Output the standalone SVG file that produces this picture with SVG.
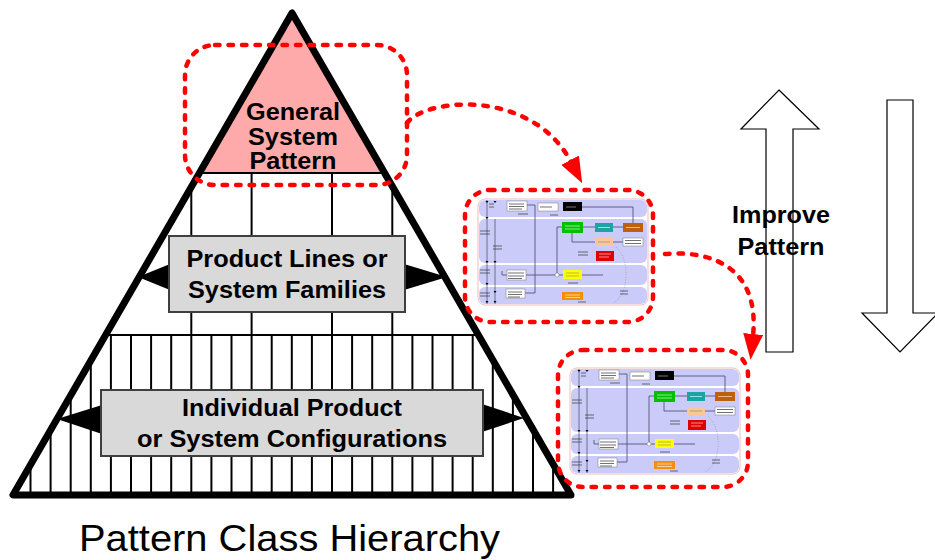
<svg xmlns="http://www.w3.org/2000/svg" xmlns:xlink="http://www.w3.org/1999/xlink" width="935" height="560" viewBox="0 0 935 560">
  <style>
    .edge{fill:none;stroke:#000;stroke-width:7;stroke-linejoin:round}
    .grid{fill:none;stroke:#000;stroke-width:2}
    .box{fill:#d9d9d9;stroke:#3f3f3f;stroke-width:2}
    .lbl{font-family:"Liberation Sans",Arial,sans-serif;font-weight:bold;font-size:23px;fill:#000;text-anchor:middle}
    .title{font-family:"Liberation Sans",Arial,sans-serif;font-size:36px;fill:#000}
    .ring{fill:none;stroke:#f00;stroke-width:4.5;stroke-dasharray:4.5 9;stroke-linecap:round}
    .block{fill:#fff;stroke:#000;stroke-width:1.2}
    .lane{fill:#cbcbfa}
    .wire{fill:none;stroke:#55557a;stroke-width:0.9}
    .mini{stroke:#777;stroke-width:0.5}
    .tx{fill:none;stroke:#333;stroke-width:0.7}
  </style>
  <defs>
    <clipPath id="pyramidClip">
      <polygon points="292,13 13,495 571,495"/>
    </clipPath>
    <marker id="arrowRed" viewBox="0 0 26 20" refX="2" refY="10" markerWidth="26" markerHeight="20" markerUnits="userSpaceOnUse" orient="auto">
      <path d="M0 0L26 10L0 20z" fill="#f00"/>
    </marker>
    <filter id="soft" x="-5%" y="-5%" width="110%" height="110%">
      <feGaussianBlur stdDeviation="0.35"/>
    </filter>
    <!-- small flow sketch: swim lanes with coloured blocks -->
    <g id="flowSketch">
      <rect x="0" y="0" width="170" height="106" rx="7" fill="#fff" stroke="#e8a0a0" stroke-width="0.7"/>
      <rect class="lane" x="1" y="1" width="168" height="17" rx="6"/>
      <rect class="lane" x="1" y="20" width="168" height="44" rx="6"/>
      <rect class="lane" x="1" y="66" width="168" height="20" rx="6"/>
      <rect class="lane" x="1" y="88" width="168" height="17" rx="6"/>
      <path class="wire" d="M49 6H57V94H47M104 8H155V24M105 28H117M135 28H145M94 34V43H117M135 43H145M84 28H79V76M24 76H125M24 72V76"/>
      <path d="M138 48C152 60 152 95 135 104" fill="none" stroke="#888" stroke-width="0.6" stroke-dasharray="1 1.5"/>
      <path d="M9 1V105M17 20V105" fill="none" stroke="#333" stroke-width="0.6"/>
      <path d="M7.5 2h3l-1.5 2zM7.5 18h3l-1.5 2zM7.5 62h3l-1.5 2zM7.5 84h3l-1.5 2zM7.5 102h3l-1.5 2zM15.5 2h3l-1.5 2zM15.5 62h3l-1.5 2zM15.5 92h3l-1.5 2zM15.5 102h3l-1.5 2z" fill="#000"/>
      <circle cx="79" cy="76" r="2" fill="#fff" stroke="#777" stroke-width="0.5"/>
      <rect class="mini" x="29" y="2" width="20" height="10" fill="#fff"/>
      <rect class="mini" x="60" y="4" width="20" height="8" fill="#fff"/>
      <rect x="85" y="3" width="19" height="9" fill="#000"/>
      <rect x="84" y="23" width="21" height="11" fill="#00c000"/>
      <rect x="117" y="24" width="18" height="9" fill="#1aa3a3"/>
      <rect x="145" y="24" width="20" height="9" fill="#c0600c"/>
      <rect x="117" y="39" width="18" height="8" fill="#f8c89c"/>
      <rect class="mini" x="145" y="39" width="20" height="8" fill="#fff"/>
      <rect x="118" y="52" width="18" height="10" fill="#e00000"/>
      <rect x="85" y="71" width="19" height="9" fill="#ffff00"/>
      <rect x="84" y="93" width="21" height="8" fill="#f09010"/>
      <rect class="mini" x="29" y="71" width="19" height="10" fill="#fff"/>
      <rect class="mini" x="28" y="90" width="19" height="9" fill="#fff"/>
      <path class="tx" d="M31 5H46M31 7.5H46M31 10H44M62 8H74M30 74H46M30 77H46M30 79.5H44M30 93H44M30 95.5H44M30 98H42M147 41.5H163M147 44.5H163M40 15H50M2 32H12M2 35H12M15 47H24M15 50H24M2 71H12M2 74H12M2 94H12M2 97H12M11 5H16M11 8H16M100 53H110M100 56H110M90 84H100M100 103H108M142 92H150M142 95H150M72 16H80"/>
      <path d="M88 8H98" stroke="#aaa" stroke-width="0.7"/>
      <path d="M87 27H102M87 30H102" stroke="#cfc" stroke-width="0.7"/>
      <path d="M120 28.5H132" stroke="#cff" stroke-width="0.7"/>
      <path d="M148 28.5H162" stroke="#fdc" stroke-width="0.7"/>
      <path d="M120 43H132" stroke="#a86" stroke-width="0.7"/>
      <path d="M121 55H133M121 58H131" stroke="#fcc" stroke-width="0.7"/>
      <path d="M88 74H101M88 77H101" stroke="#996" stroke-width="0.7"/>
      <path d="M87 96H102M87 98.5H102" stroke="#fed" stroke-width="0.7"/>
    </g>
  </defs>

  <rect width="935" height="560" fill="#fff"/>

  <!-- pyramid: apex tier, middle tier, base tier -->
  <g id="pyramid">
    <polygon points="292,13 199,173 385,173" fill="#ffaaaa"/>
    <g clip-path="url(#pyramidClip)">
      <path class="grid" d="M185 173H400M95 335H490"/>
      <path class="grid" d="M191.3 173V335M251.6 173V335M332 173V335M392.3 173V335"/>
      <path class="grid" d="M30.5 335V495M50.6 335V495M70.7 335V495M90.8 335V495M110.9 335V495M131 335V495M151.1 335V495M171.2 335V495M191.3 335V495M211.4 335V495M231.5 335V495M251.6 335V495M271.7 335V495M291.8 335V495M311.9 335V495M332 335V495M352.1 335V495M372.2 335V495M392.3 335V495M412.4 335V495M432.5 335V495M452.6 335V495M472.7 335V495M492.8 335V495M512.9 335V495M533 335V495M553.1 335V495"/>
    </g>
    <polygon class="edge" points="292,13 13,495 571,495"/>
  </g>

  <g id="general-system-pattern">
    <text class="lbl" x="293" y="120" textLength="94" lengthAdjust="spacingAndGlyphs">General</text>
    <text class="lbl" x="293" y="144.5" textLength="90" lengthAdjust="spacingAndGlyphs">System</text>
    <text class="lbl" x="293" y="169" textLength="87" lengthAdjust="spacingAndGlyphs">Pattern</text>
  </g>

  <g id="product-lines">
    <path d="M170 264L138 277L170 290z" fill="#000"/>
    <path d="M404 264L447 277L404 290z" fill="#000"/>
    <rect class="box" x="169" y="236" width="236" height="76"/>
    <text class="lbl" x="287" y="267" textLength="201" lengthAdjust="spacingAndGlyphs">Product Lines or</text>
    <text class="lbl" x="287" y="298" textLength="198" lengthAdjust="spacingAndGlyphs">System Families</text>
  </g>

  <g id="configurations">
    <path d="M102 405L57 419L102 434z" fill="#000"/>
    <path d="M482 404L524 418L482 432z" fill="#000"/>
    <rect class="box" x="101" y="390" width="382" height="66"/>
    <text class="lbl" x="292" y="416" textLength="220" lengthAdjust="spacingAndGlyphs">Individual Product</text>
    <text class="lbl" x="292" y="447" textLength="310" lengthAdjust="spacingAndGlyphs">or System Configurations</text>
  </g>

  <g id="apex-selection">
    <rect class="ring" x="185" y="45" width="222" height="140" rx="30"/>
  </g>

  <g id="instance-a">
    <use xlink:href="#flowSketch" href="#flowSketch" transform="translate(478 199)" filter="url(#soft)"/>
    <rect class="ring" x="465" y="190" width="188" height="132" rx="25"/>
  </g>

  <g id="instance-b">
    <use xlink:href="#flowSketch" href="#flowSketch" transform="translate(570 368)" filter="url(#soft)"/>
    <rect class="ring" x="558" y="350" width="190" height="137" rx="25"/>
  </g>

  <g id="connectors">
    <path class="ring" d="M407 123C425 98 532 88 571 162" marker-end="url(#arrowRed)"/>
    <path class="ring" d="M665 254C712 250 760 268 753 336" marker-end="url(#arrowRed)"/>
  </g>

  <g id="improve-pattern">
    <polygon class="block" points="779,90 819,129 793,129 793,352 766,352 766,129 741,129"/>
    <text class="lbl" x="781" y="223" textLength="98" lengthAdjust="spacingAndGlyphs">Improve</text>
    <text class="lbl" x="781" y="255" textLength="87" lengthAdjust="spacingAndGlyphs">Pattern</text>
  </g>

  <g id="apply-pattern">
    <polygon class="block" points="887,100 913,100 913,313 938,313 900,352 862,313 887,313"/>
  </g>

  <g id="caption">
    <text class="title" x="79" y="551" textLength="421" lengthAdjust="spacingAndGlyphs">Pattern Class Hierarchy</text>
  </g>
</svg>
